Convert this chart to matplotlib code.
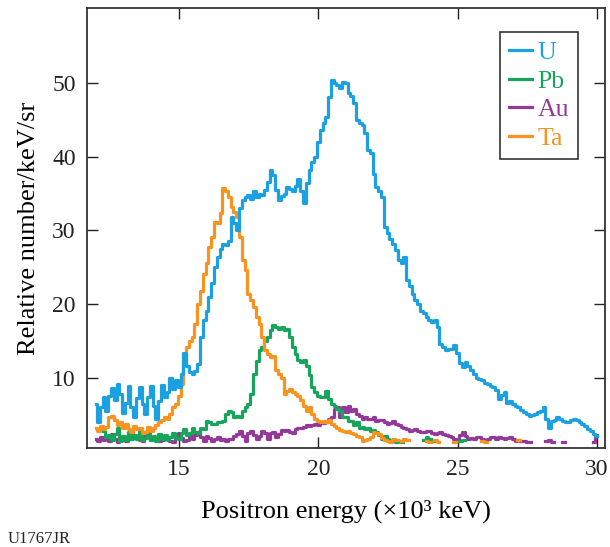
import numpy as np
import matplotlib.pyplot as plt

plt.rcParams['font.family'] = ['Liberation Serif', 'DejaVu Serif']

nan = np.nan

# energy grid (x10^3 keV), 0.1 bins
energy = np.round(np.arange(12.0, 30.05, 0.1), 1)

U = [6.4, 4.0, 6.0, 7.3, 5.5, 7.5, 8.6, 7.0, 9.1, 7.8,
     5.2, 6.5, 8.8, 6.0, 4.6, 7.2, 8.7, 6.4, 5.0, 7.4,
     8.9, 6.2, 4.4, 6.8, 9.0, 7.3, 8.0, 10.0, 8.5, 9.6,
     8.7, 10.5, 13.3, 11.5, 10.8, 10.5, 10.9, 11.9, 15.5, 17.8,
     19.1, 21.0, 22.8, 25.0, 26.4, 27.5, 28.2, 28.0, 28.6, 31.8,
     31.0, 30.0, 33.0, 34.1, 34.5, 34.8, 34.3, 35.4, 34.5, 35.0,
     34.8, 35.5, 36.5, 38.2, 37.5, 35.5, 34.1, 34.6, 35.0, 35.9,
     35.6, 35.4, 36.0, 37.0, 35.4, 33.7, 36.4, 38.2, 39.3, 40.0,
     42.0, 43.6, 44.6, 45.4, 48.1, 50.4, 50.0, 49.7, 49.3, 50.2,
     50.0, 48.6, 48.3, 47.3, 45.0, 44.6, 44.3, 43.2, 40.9, 40.5,
     37.7, 35.9, 35.4, 34.5, 30.4, 29.6, 28.8, 28.2, 27.3, 25.9,
     25.6, 26.4, 23.2, 22.5, 21.4, 20.5, 20.0, 19.1, 18.8, 18.2,
     17.8, 17.6, 17.8, 16.8, 14.6, 14.2, 13.7, 13.9, 13.9, 14.4,
     13.3, 12.0, 11.4, 12.1, 11.5, 11.0, 10.5, 10.0, 9.8, 9.6,
     9.3, 9.1, 8.8, 8.7, 8.3, 7.1, 7.6, 8.0, 6.6, 6.8,
     6.4, 6.2, 6.0, 5.6, 5.3, 5.0, 4.8, 4.9, 5.1, 5.3,
     5.4, 6.0, 4.4, 3.2, 4.1, 4.3, 4.6, 4.4, 4.1, 3.9,
     4.0, 4.2, 4.4, 4.2, 3.9, 3.7, 3.4, 3.0, 2.7, 2.3,
     2.0]

Pb = [nan, nan, nan, 2.8, 1.9, 2.2, 1.5, 2.3, 3.1, 1.4,
      2.0, 1.5, 2.6, 1.6, 2.2, 1.6, 2.7, 1.5, 1.8, 2.4,
      1.5, 2.0, 1.4, 2.3, 1.6, 2.2, 1.5, 1.9, 2.5, 1.8,
      1.6, 2.5, 3.0, 2.2, 2.4, 3.2, 2.6, 2.4, 3.2, 3.0,
      4.1, 3.9, 3.7, 3.7, 3.9, 4.0, 4.1, 5.1, 5.5, 5.3,
      4.6, 4.8, 4.6, 5.5, 6.0, 6.4, 7.8, 10.5, 12.3, 13.7,
      14.1, 15.0, 15.5, 16.4, 17.1, 16.8, 16.6, 16.8, 16.4, 16.6,
      15.5, 14.1, 13.2, 12.4, 12.1, 12.4, 11.6, 10.3, 8.7, 8.0,
      7.5, 7.3, 7.4, 8.2, 7.1, 6.4, 6.2, 5.7, 5.5, 4.6,
      4.6, 4.1, 4.1, 3.5, 3.9, 3.2, 3.3, 3.0, 3.2, 2.8,
      2.9, 2.6, 2.2, 1.7, 2.0, 1.6, 1.4, 1.5, 1.3, 1.4,
      1.3, nan, nan, nan, nan, nan, nan, nan, 1.5, 1.9,
      1.6, nan, 1.4, nan, nan, nan, nan, nan, nan, nan,
      nan, 1.4, 1.5, nan, nan, nan, nan, nan, nan, nan,
      nan, nan, nan, nan, nan, nan, nan, nan, nan, nan,
      nan, nan, nan, nan, nan, nan, nan, nan, nan, nan,
      nan, nan, nan, nan, nan, nan, nan, nan, nan, nan,
      nan, nan, nan, nan, nan, nan, nan, nan, nan, nan,
      nan]

Au = [1.6, 1.4, 1.9, 1.5, 1.8, 1.4, 2.3, 1.7, 1.3, 1.8,
      1.6, 1.4, 2.2, 2.8, 2.1, 1.8, 1.5, 1.4, 2.0, 2.3,
      1.5, 1.9, 1.7, 1.4, 1.5, 2.0, 1.6, 1.4, 1.3, 1.9,
      2.4, 1.8, 1.4, 1.5, 2.0, 1.7, 2.2, 2.6, 1.9, 1.4,
      2.1, 1.8, 1.4, 1.6, 1.9, 1.5, 1.7, 1.4, 1.6, 1.7,
      2.0, 2.3, 2.8, 2.0, 1.4, 2.4, 2.8, 2.2, 1.6, 2.0,
      2.8, 2.4, 1.7, 2.4, 2.6, 1.9, 2.3, 2.9, 2.7, 2.9,
      2.6, 2.4, 3.0, 3.2, 3.1, 3.3, 3.5, 3.4, 3.6, 3.7,
      3.6, 3.9, 3.8, 4.0, 4.4, 4.6, 5.7, 6.0, 4.6, 6.0,
      5.3, 6.2, 5.4, 5.7, 5.0, 4.8, 4.4, 4.6, 4.4, 4.4,
      4.6, 4.1, 4.2, 4.3, 3.9, 3.7, 3.8, 4.1, 3.7, 3.5,
      3.3, 3.2, 3.0, 2.8, 2.9, 3.0, 2.8, 2.6, 2.6, 2.7,
      2.8, 2.5, 2.3, 2.4, 2.6, 2.3, 2.2, 2.1, 1.9, 1.7,
      1.4, 2.2, 2.6, 2.0, 1.7, 1.8, 1.7, 1.9, 1.9, 1.6,
      1.4, 1.6, 1.9, 1.9, 1.7, 1.9, 1.8, 1.7, 1.8, 1.9,
      1.6, 1.4, 1.5, 1.4, 1.4, 1.3, 1.3, nan, nan, nan,
      nan, nan, 1.4, 1.5, 1.3, nan, nan, nan, 1.2, nan,
      nan, nan, nan, nan, nan, nan, nan, nan, nan, 1.2,
      2.2]

Ta = [3.2, 2.8, 3.4, 3.0, 3.3, 4.6, 4.8, 4.2, 3.5, 3.9,
      3.2, 3.7, 3.0, 2.6, 3.4, 3.0, 3.2, 2.4, 2.6, 3.3,
      2.8, 3.2, 3.6, 3.9, 4.2, 4.6, 4.4, 5.1, 6.0, 6.4,
      7.5, 9.1, 11.9, 14.1, 15.0, 15.5, 17.3, 20.0, 21.8, 24.1,
      25.5, 27.7, 29.1, 31.1, 31.0, 32.3, 35.7, 35.3, 34.5, 33.2,
      32.5, 31.8, 29.1, 25.9, 24.6, 21.4, 20.5, 19.6, 18.2, 17.3,
      15.5, 13.7, 13.2, 12.8, 12.9, 11.0, 10.5, 10.0, 7.8, 8.2,
      8.5, 8.1, 7.8, 7.5, 6.9, 6.2, 5.5, 6.0, 5.1, 4.4,
      4.1, 3.9, 4.1, 4.0, 4.2, 3.7, 3.4, 3.2, 2.9, 2.8,
      2.6, 2.7, 2.4, 2.3, 2.1, 1.9, 1.4, 1.5, 1.6, 1.9,
      2.6, 2.4, 2.3, 1.8, 1.5, 1.4, 1.3, 1.7, 1.5, nan,
      1.4, 1.6, 1.5, nan, nan, nan, nan, nan, nan, 1.4,
      1.3, nan, 1.5, 1.3, nan, nan, nan, nan, nan, 1.3,
      nan, nan, nan, nan, nan, nan, nan, nan, nan, 1.4,
      1.3, nan, nan, nan, nan, nan, nan, nan, nan, nan,
      nan, nan, 1.5, nan, nan, nan, nan, nan, nan, nan,
      nan, nan, nan, nan, nan, nan, nan, nan, nan, nan,
      nan, nan, nan, nan, nan, nan, nan, nan, nan, nan,
      nan]

series = [('U', U, '#1ba1e2'), ('Pb', Pb, '#17a45b'),
          ('Au', Au, '#93399a'), ('Ta', Ta, '#f7931e')]

fig = plt.figure(figsize=(6.10, 5.47), dpi=100)
ax = fig.add_axes([0.1426, 0.181, 0.849, 0.8044])

# draw Au under the others, like the original
for name, vals, col in [series[2], series[1], series[3], series[0]]:
    ax.step(energy, vals, where='mid', color=col, lw=2.3, label=name)

ax.set_xlim(11.69, 30.29)
ax.set_ylim(0.43, 60.2)
ax.set_xticks([15, 20, 25, 30])
ax.set_yticks([10, 20, 30, 40, 50])
ax.tick_params(direction='in', length=8, width=1.0, labelsize=17, pad=8,
               top=True, right=True, colors='#222222')
for sp in ax.spines.values():
    sp.set_linewidth(1.3)
    sp.set_color('#333333')

ax.set_xlabel('Positron energy (×10³ keV)', fontsize=19, labelpad=14)
ax.set_ylabel('Relative number/keV/sr', fontsize=19, labelpad=9)

handles, labels = ax.get_legend_handles_labels()
order = [labels.index(n) for n in ['U', 'Pb', 'Au', 'Ta']]
leg = ax.legend([handles[i] for i in order], [labels[i] for i in order],
                loc='upper right', bbox_to_anchor=(0.948, 0.945),
                fontsize=18.5, handlelength=0.9, handletextpad=0.2,
                labelspacing=0.22, borderpad=0.35, fancybox=False,
                framealpha=1, edgecolor='#333333', borderaxespad=0)
leg.get_frame().set_linewidth(1.2)
for txt, (n, v, c) in zip(leg.get_texts(), series):
    txt.set_color(c)

fig.text(0.012, 0.008, 'U1767JR', fontsize=12, color='#222222')

fig.savefig('out.png', dpi=100)
